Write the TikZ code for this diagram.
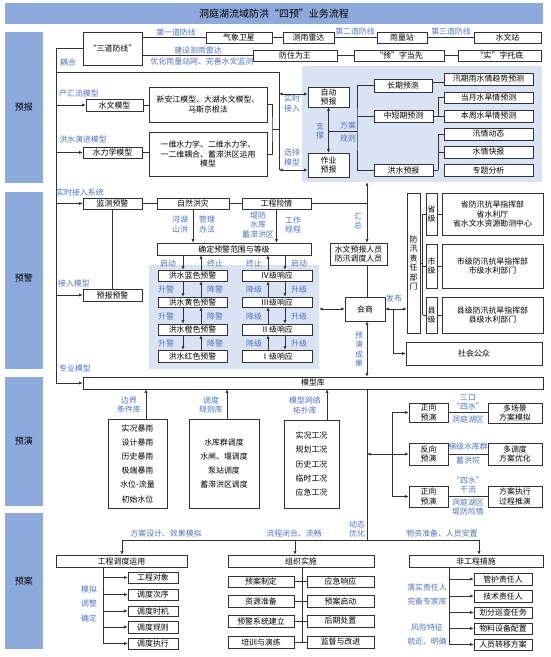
\documentclass[tikz,border=0pt]{standalone}
\usepackage{fontspec}
\setmainfont{Noto Sans CJK SC}
\usetikzlibrary{arrows.meta}
\definecolor{band}{RGB}{142,169,219}
\definecolor{lightbg}{RGB}{218,227,243}
\definecolor{lblue}{RGB}{80,115,195}
\definecolor{edge}{RGB}{50,50,50}
\newcommand{\fs}{\fontsize{7.9}{9.4}\selectfont}
\newcommand{\mybox}[7][]{\node[bx,#1,minimum width={(#5-#3)*1pt},minimum height={(#6-#4)*1pt}] (#2) at ({(#3+#5)/2},{(#4+#6)/2}) {#7};}
\newcommand{\myarea}[6]{\node[#6,minimum width={(#4-#2)*1pt},minimum height={(#5-#3)*1pt}] (#1) at ({(#2+#4)/2},{(#3+#5)/2}) {};}
\begin{document}
\begin{tikzpicture}[x=1pt,y=-1pt,
 bx/.style={draw=edge,line width=0.6pt,fill=white,inner sep=0.3pt,font=\fs,align=center},
 lbl/.style={text=lblue,font=\fs,inner sep=0pt,align=center},
 ln/.style={draw=edge,line width=0.6pt},
 arr/.style={ln,-{Latex[length=3.5pt,width=3pt]}},
 dar/.style={ln,{Latex[length=3.5pt,width=3pt]}-{Latex[length=3.5pt,width=3pt]}},
 bandst/.style={fill=band,draw=none,inner sep=0pt},
 bgst/.style={fill=lightbg,draw=none,inner sep=0pt},
 sec/.style={font=\fontsize{9}{11}\selectfont}]
\useasboundingbox (0,0) rectangle (550,657);
\fill[white] (0,0) rectangle (550,657);
% bands
\myarea{titleband}{5}{3}{543}{24}{bandst}
\node[font=\fontsize{10}{12}\selectfont] (title) at (274,14) {洞庭湖流域防洪“四预”业务流程};
\myarea{s1}{5}{32}{43}{183}{bandst}
\myarea{s2}{5}{192}{43}{369}{bandst}
\myarea{s3}{5}{377}{43}{506}{bandst}
\myarea{s4}{5}{513}{43}{649}{bandst}
\node[sec] at (24,107) {预报};
\node[sec] at (24,278) {预警};
\node[sec] at (24,441) {预演};
\node[sec] at (24,581) {预案};
% light areas
\myarea{ybbg}{302}{66}{542}{182}{bgst}
\myarea{wbg}{149}{265}{319}{369}{bgst}
\coordinate (spx) at (56,0);
% top
\mybox{sdfx}{83}{32}{142}{65}{“三道防线”}
\mybox{qxwx}{206}{32}{272}{43}{气象卫星}
\mybox{cyld}{283}{32}{334}{43}{测雨雷达}
\mybox{ylz}{377}{32}{427}{43}{雨量站}
\mybox{swz}{474}{32}{541}{43}{水文站}
\mybox{fzww}{253}{50}{337}{61}{防住为王}
\mybox{yzdx}{354}{50}{444}{61}{“预”字当先}
\mybox{sztd}{458}{50}{541}{61}{“实”字托底}
\draw[ln] (sdfx.east |- qxwx) -- (qxwx.west);
\draw[ln] (qxwx) -- (cyld);
\draw[ln] (cyld) -- (ylz);
\draw[ln] (ylz) -- (swz);
\draw[ln] (sdfx.east |- fzww) -- (fzww.west);
\draw[ln] (fzww) -- (yzdx);
\draw[ln] (yzdx) -- (sztd);
\node[lbl] at (176,32) {第一道防线};
\node[lbl] at (355,31) {第二道防线};
\node[lbl] at (451,31) {第三道防线};
\node[lbl] at (198,50.5) {建设测雨雷达};
\node[lbl] at (202,61) {优化雨量站网、完善水文监测};
\node[lbl] at (68,62) {耦合};
% forecast area
\mybox{swmx}{86}{99}{143}{111}{水文模型}
\mybox{xaj}{149}{87}{267}{122}{新安江模型、大湖水文模型、\\马斯京根法}
\mybox{slx}{83}{147}{142}{158}{水力学模型}
\mybox{ywsl}{149}{132}{267}{176}{一维水力学、二维水力学、\\一二维耦合、蓄滞洪区运用\\模型}
\node[lbl] at (79,94) {产汇流模型};
\node[lbl] at (83,139) {洪水演进模型};
\draw[ln] (swmx.east) -- (swmx.east -| xaj.west);
\draw[ln] (slx.east) -- (slx.east -| ywsl.west);
\mybox{zdyb}{308}{87}{349}{107}{自动\\预报}
\mybox{zyyb}{308}{153}{349}{177}{作业\\预报}
\coordinate (zdw) at ([yshift=3pt]zdyb.west);
\coordinate (zyw) at ([yshift=-5pt]zyyb.west);
\coordinate (cx) at (279,72);
\draw[ln] (spx |- cx) -- (cx) -- (cx |- zyw);
\coordinate (mb) at (272,129);
\draw[ln] (xaj.east) -| (mb) |- (ywsl.east);
\draw[ln] (mb) -- (cx |- mb);
\draw[dar] (cx |- zdw) -- (zdw);
\draw[dar] (cx |- zyw) -- (zyw);
\node[lbl] at (292,103.5) {实时\\接入};
\node[lbl] at (292,157.5) {选择\\模型};
\draw[dar] (zdyb.south) -- (zyyb.north);
\node[lbl] at (320,131) {支\\撑};
\coordinate (fj) at (357,131);
\draw[ln] (zdyb.south |- fj) -- (fj);
\node[lbl] at (348,125.5) {方案};
\node[lbl] at (348,139) {规则};
\mybox{cqyc}{374}{79}{432}{92}{长期预测}
\mybox{zdqyc}{374}{110}{433}{122}{中短期预测}
\mybox{hsyb}{374}{164}{433}{176}{洪水预报}
\mybox{xqyc}{444}{73}{533}{85}{汛期雨水情趋势预测}
\mybox{dyyc}{444}{92}{533}{103}{当月水旱情预测}
\mybox{bzyc}{444}{110}{533}{122}{本周水旱情预测}
\mybox{xqdt}{444}{128}{533}{140}{汛情动态}
\mybox{sqkb}{444}{146}{533}{158}{水情快报}
\mybox{ztfx}{444}{164}{533}{176}{专题分析}
\draw[ln] (cqyc.west) -| (fj) |- (hsyb.west);
\draw[ln] (fj |- zdqyc.west) -- (zdqyc.west);
\coordinate (cqe) at ([yshift=3pt]cqyc.east);
\draw[ln] (cqe) -- (cqe -| xqyc.west);
\coordinate (b1) at (438,0);
\draw[ln] (zdqyc.east) -- (bzyc.west);
\draw[ln] (b1 |- dyyc.west) -- (dyyc.west);
\draw[ln] (b1 |- dyyc.west) -- (b1 |- bzyc.west);
\draw[ln] (hsyb.east) -- (b1 |- hsyb.east);
\draw[ln] (b1 |- xqdt.west) -- (xqdt.west);
\draw[ln] (b1 |- sqkb.west) -- (sqkb.west);
\draw[ln] (b1 |- xqdt.west) -- (b1 |- ztfx.west);
% warning
\mybox{jcyj}{83}{198}{142}{209}{监测预警}
\mybox{zrhz}{157}{198}{229}{209}{自然洪灾}
\mybox{gcxq}{242}{198}{311}{209}{工程险情}
\mybox{ybyj}{83}{289}{142}{301}{预报预警}
\mybox{qdyj}{157}{243}{311}{255}{确定预警范围与等级}
\node[lbl] at (80,192) {实时接入系统};
\node[lbl] at (74,283) {接入模型};
\draw[ln] (jcyj) -- (zrhz);
\draw[ln] (zrhz) -- (gcxq);
\draw[ln] (jcyj) -- (ybyj);
\draw[arr] (zrhz.south) -- (zrhz.south |- qdyj.north);
\draw[arr] (gcxq.south) -- (gcxq.south |- qdyj.north);
\node[lbl] at (180,224.5) {河湖\\山洪};
\node[lbl] at (207,224.5) {管理\\办法};
\node[lbl] at (258,225) {堤防\\水库\\蓄滞洪区};
\node[lbl] at (293,225) {工作\\规程};
\mybox{ry}{330}{243}{387}{265}{水文预报人员\\防汛调度人员}
\mybox{hs}{345}{297}{385}{321}{会商}
\coordinate (vx) at (367,0);
\draw[ln] (gcxq.east) -- (vx |- gcxq.east);
\draw[arr] (vx |- gcxq.east) -- (vx |- ybbg.south);
\draw[arr] (vx |- gcxq.east) -- (vx |- ry.north);
\node[lbl] at (358,221) {汇\\总};
\draw[ln] (vx |- ry.south) -- (vx |- hs.north);
\mybox{lan}{158}{270}{227}{281}{洪水蓝色预警}
\mybox{huang}{158}{297}{227}{307}{洪水黄色预警}
\mybox{cheng}{158}{324}{227}{335}{洪水橙色预警}
\mybox{hong}{158}{350}{227}{362}{洪水红色预警}
\mybox{rfour}{242}{270}{312}{281}{Ⅳ级响应}
\mybox{rthree}{242}{297}{312}{307}{Ⅲ级响应}
\mybox{rtwo}{242}{324}{312}{335}{Ⅱ级响应}
\mybox{rone}{242}{350}{312}{362}{Ⅰ级响应}
\coordinate (aa) at (183,0);
\coordinate (ab) at (201,0);
\coordinate (ac) at (268,0);
\coordinate (ad) at (285,0);
\foreach \u/\l in {qdyj/lan,lan/huang,huang/cheng,cheng/hong}{
 \draw[arr] (aa |- \u.south) -- (aa |- \l.north);
 \draw[arr] (ab |- \l.north) -- (ab |- \u.south);}
\foreach \u/\l in {qdyj/rfour,rfour/rthree,rthree/rtwo,rtwo/rone}{
 \draw[arr] (ad |- \u.south) -- (ad |- \l.north);
 \draw[arr] (ac |- \l.north) -- (ac |- \u.south);}
\node[lbl] at (168,263) {启动};
\node[lbl] at (215,263) {终止};
\node[lbl] at (254,263) {终止};
\node[lbl] at (299,263) {启动};
\foreach \yy in {289,316,343}{
 \node[lbl] at (166,\yy) {升警};
 \node[lbl] at (215,\yy) {降警};
 \node[lbl] at (254,\yy) {降级};
 \node[lbl] at (299,\yy) {升级};}
\draw[dar] (wbg.east |- hs) -- (hs.west);
% responsibility
\mybox{fxzr}{407}{193}{420}{333}{防\\汛\\责\\任\\部\\门}
\mybox{sj}{426}{193}{437}{235}{省\\级}
\mybox{sjb}{442}{193}{543}{235}{省防汛抗旱指挥部\\省水利厅\\省水文水资源勘测中心}
\mybox{shij}{426}{244}{437}{288}{市\\级}
\mybox{shijb}{442}{244}{543}{288}{市级防汛抗旱指挥部\\市级水利部门}
\mybox{xj}{426}{297}{437}{333}{县\\级}
\mybox{xjb}{442}{297}{543}{333}{县级防汛抗旱指挥部\\县级水利部门}
\mybox{shgz}{406}{342}{542}{365}{社会公众}
\coordinate (bk) at (422.5,0);
\draw[ln] (fxzr.east) -- (bk |- fxzr.east);
\draw[ln] (bk |- sj.west) -- (bk |- xj.west);
\draw[ln] (bk |- sj.west) -- (sj.west);
\draw[ln] (bk |- shij.west) -- (shij.west);
\draw[ln] (bk |- xj.west) -- (xj.west);
\draw[ln] (sj) -- (sjb);
\draw[ln] (shij) -- (shijb);
\draw[ln] (xj) -- (xjb);
\draw[dar] (hs.east) -- (hs.east -| fxzr.west);
\coordinate (vxb) at (393,0);
\draw[arr] (vxb |- hs.east) |- (shgz.west);
\node[lbl] at (394,298) {发布};
% model library
\mybox{mxk}{83}{377}{543}{389}{模型库}
\draw[arr] (sdfx.west) -| (mxk.west -| spx) -- (mxk.west);
\draw[arr] (swmx.west -| spx) -- (swmx.west);
\draw[arr] (slx.west -| spx) -- (slx.west);
\draw[arr] (jcyj.west -| spx) -- (jcyj.west);
\draw[arr] (ybyj.west -| spx) -- (ybyj.west);
\node[lbl] at (75,368) {专业模型};
\draw[dar] (vx |- hs.south) -- (vx |- mxk.north);
\node[lbl] at (359,349.5) {预\\演\\成\\果};
% rehearsal
\mybox[font={\fontsize{7.9}{14.2}\selectfont}]{bj}{108}{419}{167}{508}{实况暴雨\\设计暴雨\\历史暴雨\\极端暴雨\\水位-流量\\初始水位}
\mybox[font={\fontsize{7.9}{14.3}\selectfont}]{dd}{189}{419}{259}{508}{水库群调度\\水闸、堰调度\\泵站调度\\蓄滞洪区调度}
\mybox[font={\fontsize{7.9}{14.25}\selectfont}]{gk}{284}{420}{339}{508}{实况工况\\规划工况\\历史工况\\临时工况\\应急工况}
\coordinate (ua) at (146,0);
\coordinate (ub) at (227,0);
\coordinate (uc) at (327,0);
\draw[arr] (ua |- bj.north) -- (ua |- mxk.south);
\draw[arr] (ub |- dd.north) -- (ub |- mxk.south);
\draw[arr] (uc |- gk.north) -- (uc |- mxk.south);
\node[lbl] at (129,405) {边界\\条件库};
\node[lbl] at (211,405) {调度\\规则库};
\node[lbl] at (305,405.5) {模型网络\\拓扑库};
\coordinate (dist) at (367,540);
\draw[ln] (vx |- mxk.south) -- (dist);
\node[lbl] at (357,529) {动态\\优化};
\mybox{zxa}{409}{403}{448}{422}{正向\\预演}
\mybox{fx}{409}{443}{448}{465}{反向\\预演}
\mybox{zxb}{409}{486}{448}{507}{正向\\预演}
\mybox{dcj}{488}{403}{542}{423}{多场景\\方案模拟}
\mybox{ddd}{488}{443}{542}{465}{多调度\\方案优化}
\mybox{fazx}{488}{486}{542}{507}{方案执行\\过程推演}
\draw[dar] (vx |- fx.west) -- (fx.west);
\coordinate (vxc) at (392,0);
\draw[arr] (vxc |- fx.west) |- (zxa.west);
\draw[arr] (vxc |- fx.west) |- (zxb.west);
\draw[ln] (zxa.east) -- (zxa.east -| dcj.west);
\draw[ln] (fx.east) -- (fx.east -| ddd.west);
\draw[ln] (zxb.east) -- (zxb.east -| fazx.west);
\node[lbl] at (468,402.5) {三口\\“四水”};
\node[lbl] at (468,419) {洞庭湖区};
\node[lbl] at (468,447) {梯级水库群};
\node[lbl] at (468,460) {蓄洪垸};
\node[lbl] at (468,485) {“四水”\\干流};
\node[lbl] at (468,507) {洞庭湖区\\堤防险情};
% plans
\coordinate (ha) at (122,540);
\coordinate (hb) at (295,540);
\coordinate (hc) at (479,540);
\draw[ln] (ha) -- (hc);
\mybox{gcdd}{56}{555}{187}{567}{工程调度运用}
\mybox{zzss}{228}{555}{374}{567}{组织实施}
\mybox{fgc}{409}{555}{543}{567}{非工程措施}
\draw[arr] (ha) -- (ha |- gcdd.north);
\draw[arr] (hb) -- (hb |- zzss.north);
\draw[arr] (hc) -- (hc |- fgc.north);
\node[lbl] at (166,533) {方案设计、效果模拟};
\node[lbl] at (294,533) {流程闭合、流畅};
\node[lbl] at (442,533) {物资准备、人员安置};
\mybox{gcdx}{128}{572}{178}{583}{工程对象}
\mybox{ddcx}{128}{589}{178}{600}{调度次序}
\mybox{ddsj}{128}{606}{178}{616}{调度时机}
\mybox{ddgz}{128}{621}{178}{633}{调度规则}
\mybox{ddzx}{128}{638}{178}{649}{调度执行}
\coordinate (va) at (103,0);
\draw[ln] (va |- gcdd.south) -- (va |- ddzx.west);
\foreach \b in {gcdx,ddcx,ddsj,ddgz,ddzx}{\draw[arr] (va |- \b.west) -- (\b.west);}
\node[lbl] at (89,589) {模拟};
\node[lbl] at (89,603) {调整};
\node[lbl] at (89,618) {确定};
\mybox{yazd}{228}{576}{294}{587}{预案制定}
\mybox{zyzb}{228}{595}{294}{607}{资源准备}
\mybox{yjxt}{228}{615}{294}{627}{预警系统建立}
\mybox{pxyl}{228}{636}{294}{648}{培训与演练}
\mybox{yjxy}{307}{576}{374}{587}{应急响应}
\mybox{yaqd}{307}{595}{374}{607}{预案启动}
\mybox{hqcz}{307}{615}{374}{627}{后期处置}
\mybox{jdgj}{307}{636}{374}{648}{监督与改进}
\coordinate (vb) at (302,0);
\draw[ln] (vb |- zzss.south) -- (vb |- jdgj.west);
\draw[ln] (yazd) -- (yjxy);
\draw[ln] (zyzb) -- (yaqd);
\draw[ln] (yjxt) -- (hqcz);
\draw[ln] (pxyl) -- (jdgj);
\mybox{ghzr}{474}{573}{532}{585}{管护责任人}
\mybox{jszr}{474}{590}{532}{602}{技术责任人}
\mybox{hfxc}{474}{607}{532}{618}{划分巡查任务}
\mybox{wlsb}{474}{623}{532}{634}{物料设备配置}
\mybox{ryzy}{474}{639}{532}{650}{人员转移方案}
\coordinate (vc) at (449,0);
\draw[ln] (vc |- fgc.south) -- (vc |- ryzy.west);
\foreach \b in {ghzr,jszr,hfxc,wlsb,ryzy}{\draw[arr] (vc |- \b.west) -- (\b.west);}
\node[lbl] at (427,587) {落实责任人};
\node[lbl] at (427,601) {完备专家库};
\node[lbl] at (427,627) {风险特征};
\node[lbl] at (427,642) {就近、明确};
\end{tikzpicture}
\end{document}
